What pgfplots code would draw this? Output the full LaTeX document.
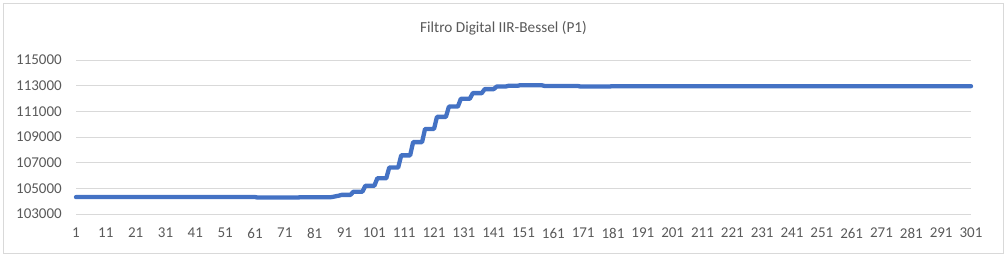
\documentclass[border=0pt]{standalone}
\usepackage{pgfplots}
\pgfplotsset{compat=1.18}
\usepackage{fontspec}
\setmainfont{Carlito}
\definecolor{exblue}{HTML}{4472C4}
\definecolor{exgrid}{HTML}{D9D9D9}
\definecolor{extext}{HTML}{595959}
\begin{document}
\begin{tikzpicture}[x=1pt,y=1pt]
\useasboundingbox (0,0) rectangle (1008,258);
\draw[exgrid, line width=0.8pt] (3.5,4.5) rectangle (1003.5,254.5);
\node[anchor=base, text=extext, font=\fontsize{15.3}{18}\selectfont] at (503.5,225.3) {Filtro Digital IIR-Bessel (P1)};
\begin{axis}[
  at={(76pt,44pt)}, anchor=south west,
  scale only axis, width=895pt, height=154pt,
  xmin=1, xmax=301, ymin=103000, ymax=115000,
  xtick={1,11,...,301},
  ytick={103000,105000,...,115000},
  scaled y ticks=false,
  axis line style={draw=none},
  major tick length=0pt,
  tick style={draw=none},
  ymajorgrids, grid style={exgrid, line width=0.9pt},
  yticklabel={\pgfmathprintnumber[fixed, precision=0, 1000 sep={}, assume math mode=true]{\tick}},
  xticklabel={\pgfmathprintnumber[fixed, precision=0, 1000 sep={}, assume math mode=true]{\tick}},
  ticklabel style={text=extext, font=\fontsize{15}{18}\selectfont},
  yticklabel style={anchor=east, inner sep=0pt, xshift=-14pt},
  xticklabel style={anchor=north, inner sep=0pt, yshift=-14pt},
  clip=false,
]
\addplot[exblue, line width=4.3pt, line join=round, line cap=round] coordinates {
(1,104320)(61,104320)
(62,104280)(75,104280)
(76,104300)(86,104300)
(87,104330)(88,104380)(89,104420)
(90,104490)(93,104490)
(94,104740)(97,104740)
(98,105200)(101,105200)
(102,105780)(105,105780)
(106,106620)(109,106620)
(110,107570)(113,107570)
(114,108600)(117,108600)
(118,109630)(121,109630)
(122,110570)(125,110570)
(126,111370)(129,111370)
(130,111980)(133,111980)
(134,112420)(137,112420)
(138,112730)(141,112730)
(142,112930)(145,112930)
(146,112990)(149,112990)
(150,113040)(157,113040)
(158,112980)(169,112980)
(170,112940)(180,112940)
(181,112960)(301,112960)
};
\end{axis}
\end{tikzpicture}
\end{document}
